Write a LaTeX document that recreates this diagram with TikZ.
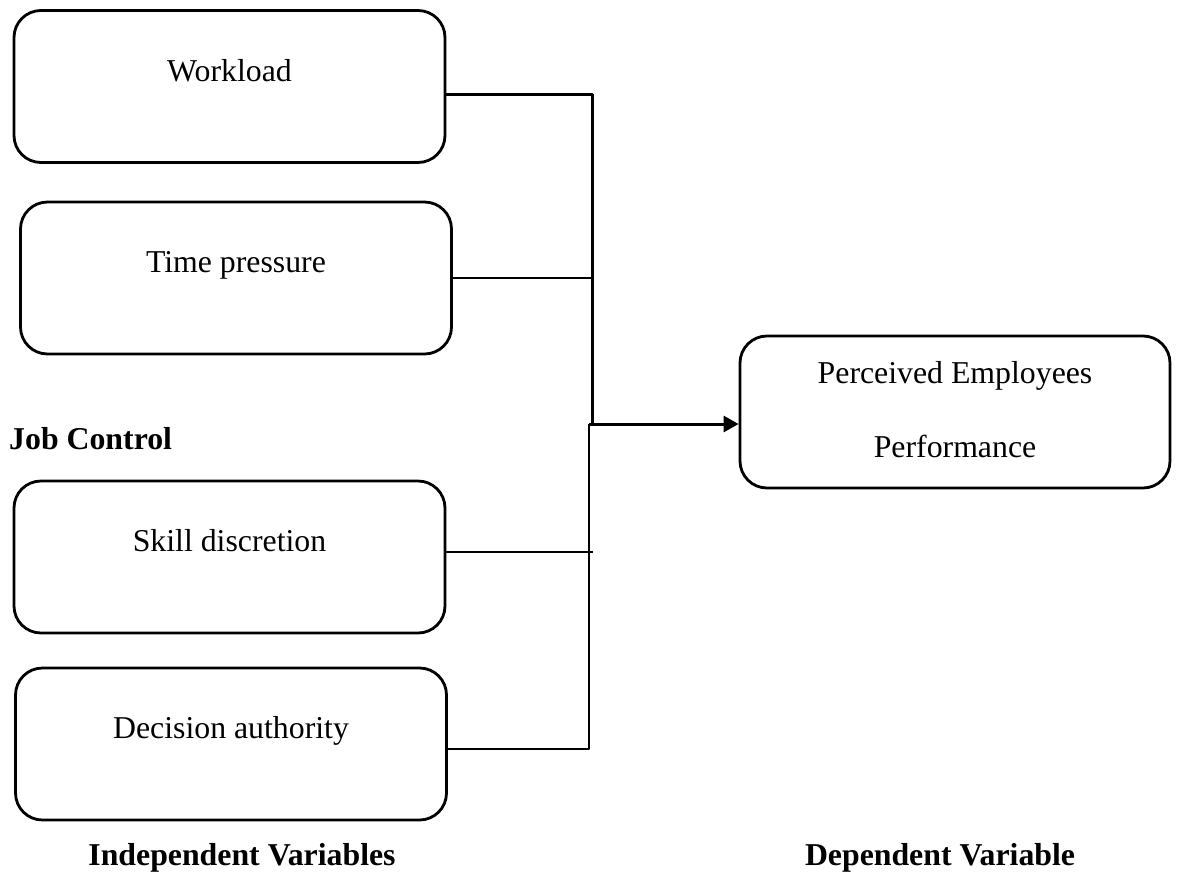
\documentclass[tikz,border=0pt]{standalone}
\usepackage{fontspec}
\setmainfont{Liberation Serif}
\usetikzlibrary{arrows.meta}

\begin{document}
\begin{tikzpicture}[x=1pt,y=-1pt,line join=round,
  varbox/.style={draw,line width=2.8pt,rounded corners=27pt,minimum width=431pt,minimum height=152pt,
    font=\fontsize{31.8}{74}\selectfont,text height=22pt,text depth=33pt},
  bigline/.style={line width=3pt},
  smallline/.style={line width=1.4pt},
  heading/.style={font=\fontsize{31.8}{38}\selectfont\bfseries,inner sep=0pt}]
  \useasboundingbox (0,0) rectangle (1177,873);
  \foreach \name/\x/\y/\txt in {workload/229.5/86.5/Workload,timepressure/236/278/Time pressure,
      skill/229.5/557/Skill discretion,decision/231/744/Decision authority} {
    \node[varbox] (\name) at (\x,\y) {\txt};
  }
  \node[varbox,align=center,minimum width=430pt,text height=96pt,text depth=6pt] (performance) at (955,412)
    {Perceived Employees\\Performance};
  \node[heading,anchor=base west] (jobcontrol) at (9,449) {Job Control};
  \node[heading,anchor=base] (indep) at (242,865) {Independent Variables};
  \node[heading,anchor=base] (dep) at (940,865) {Dependent Variable};
  % junctions
  \coordinate (jtop) at (592,94);
  \coordinate (jmid) at (592,424);
  \coordinate (jlow) at (589,424);
  \coordinate (jskill) at (593,552);
  \coordinate (jbot) at (589,749);
  \draw[bigline] (workload.east |- jtop) -- (jtop) -- (jmid);
  \draw[smallline] (timepressure.east) -- (timepressure.east -| jtop);
  \draw[smallline] (skill.east |- jskill) -- (jskill);
  \draw[smallline] (decision.east |- jbot) -- (jbot) -- (jlow);
  \draw[bigline,-{Triangle[length=15pt,width=16pt]}] (jlow) -- (performance.west |- jmid);
\end{tikzpicture}
\end{document}
